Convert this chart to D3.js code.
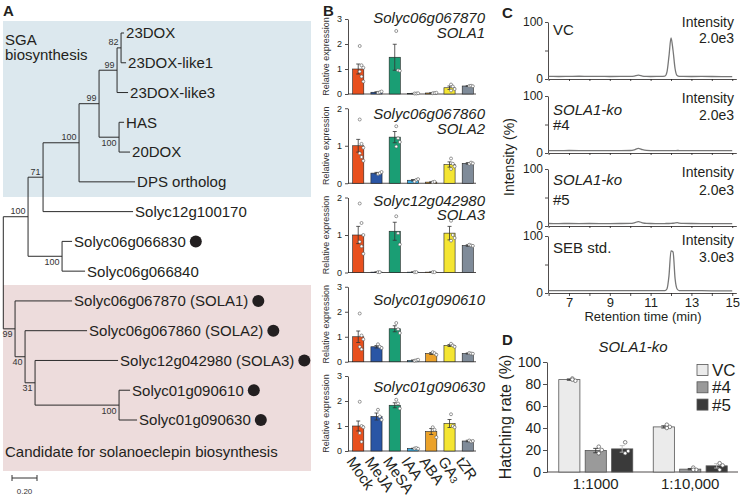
<!DOCTYPE html>
<html>
<head>
<meta charset="utf-8">
<script src="https://cdn.jsdelivr.net/npm/d3@7/dist/d3.min.js"></script>
<style>
html,body{margin:0;padding:0;background:#fff;}
svg{display:block;}
</style>
</head>
<body>
<svg id="fig" width="740" height="498" xmlns="http://www.w3.org/2000/svg"></svg>
<script>
// ======================= DATA =======================
// Panel A: phylogenetic tree  [node, parent, branch length, bootstrap]
const treeNodes = [
  ["root", "", 0, null],
  ["n100a", "root", 0.198, 100],
  ["n71", "n100a", 0.12, 71],
  ["n100b", "n71", 0.288, 100],
  ["n99a", "n100b", 0.16, 99],
  ["n99b", "n99a", 0.144, 99],
  ["n82", "n99b", 0.032, 82],
  ["23DOX", "n82", 0.024, null],
  ["23DOX-like1", "n82", 0.04, null],
  ["23DOX-like3", "n99b", 0.088, null],
  ["n100c", "n99a", 0.16, 100],
  ["HAS", "n100c", 0.04, null],
  ["20DOX", "n100c", 0.088, null],
  ["DPS ortholog", "n100b", 0.448, null],
  ["Solyc12g100170", "n71", 0.72, null],
  ["n100d", "n100a", 0.272, 100],
  ["Solyc06g066830", "n100d", 0.08, null],
  ["Solyc06g066840", "n100d", 0.184, null],
  ["n99c", "root", 0.094, 99],
  ["Solyc06g067870 (SOLA1)", "n99c", 0.456, null],
  ["n40", "n99c", 0.08, 40],
  ["Solyc06g067860 (SOLA2)", "n40", 0.496, null],
  ["n31", "n40", 0.08, 31],
  ["Solyc12g042980 (SOLA3)", "n31", 0.664, null],
  ["n100e", "n31", 0.672, 100],
  ["Solyc01g090610", "n100e", 0.088, null],
  ["Solyc01g090630", "n100e", 0.144, null]
];
const markedLeaves = ["Solyc06g066830", "Solyc06g067870 (SOLA1)", "Solyc06g067860 (SOLA2)",
                      "Solyc12g042980 (SOLA3)", "Solyc01g090610", "Solyc01g090630"];
const sgaLabel = ["SGA", "biosynthesis"];
const candidateLabel = "Candidate for solanoeclepin biosynthesis";
const scaleBarValue = 0.20;

// Panel B: relative expression
const exprTreatments = ["Mock", "MeJA", "MeSA", "IAA", "ABA", "GA3", "tZR"];
const exprGenes = ["Solyc06g067870", "Solyc06g067860", "Solyc12g042980", "Solyc01g090610", "Solyc01g090630"];
const exprAliases = ["SOLA1", "SOLA2", "SOLA3", "", ""];
const exprYMax = [3, 2, 2, 3, 3];
const exprMeans = [
  [1.0, 0.07, 1.47, 0.02, 0.04, 0.25, 0.32],
  [1.0, 0.27, 1.23, 0.08, 0.03, 0.50, 0.53],
  [1.0, 0.01, 1.10, 0.01, 0.01, 1.05, 0.72],
  [1.0, 0.60, 1.32, 0.05, 0.33, 0.65, 0.33],
  [1.0, 1.38, 1.83, 0.10, 0.78, 1.10, 0.40]
];
const exprSE = [
  [0.20, 0.02, 0.52, 0.005, 0.005, 0.07, 0.01],
  [0.17, 0.02, 0.15, 0.02, 0.01, 0.07, 0.02],
  [0.23, 0.005, 0.24, 0.005, 0.005, 0.18, 0.02],
  [0.23, 0.05, 0.12, 0.02, 0.04, 0.04, 0.02],
  [0.20, 0.14, 0.10, 0.01, 0.12, 0.16, 0.03]
];
const exprReps = [
  [[1.92,1.15,1.05,0.9,0.7,0.5],[0.05,0.07,0.1],[2.52,0.95,0.93],[0.02,0.02,0.03],[0.03,0.04,0.05],[0.38,0.3,0.2,0.14],[0.32,0.33,0.31]],
  [[1.7,1.05,0.95,0.8,0.7,0.6],[0.25,0.27,0.3],[1.52,1.2,1.1,0.98],[0.05,0.09,0.11],[0.03,0.04],[0.66,0.52,0.45,0.38],[0.52,0.55,0.53]],
  [[1.84,1.32,1.0,0.82,0.7,0.5],[0.01,0.01],[1.5,1.05,0.75],[0.01,0.01],[0.01,0.01],[1.38,1.0,0.92,0.85],[0.74,0.72,0.71]],
  [[1.93,1.05,0.9,0.6,0.5],[0.7,0.6,0.55],[1.55,1.3,1.15],[0.04,0.06,0.08],[0.38,0.34,0.28],[0.72,0.65,0.6],[0.35,0.33,0.32]],
  [[1.97,1.0,0.95,0.72,0.37],[1.65,1.38,1.25],[2.05,1.9,1.7],[0.1,0.12,0.09],[0.95,0.85,0.55],[1.47,1.0,0.95],[0.42,0.38,0.4]]
];

// Panel C: LC-MS chromatograms (relative intensity, %)
const chromSamples = ["VC", "SOLA1-ko", "SOLA1-ko", "SEB std."];
const chromLines = ["", "#4", "#5", ""];
const chromMaxIntensity = ["2.0e3", "2.0e3", "2.0e3", "3.0e3"];
const chromTime = [6,6.5,7,7.5,8,8.5,9,9.5,10,10.2,10.4,10.6,10.8,11,11.5,11.7,11.8,11.9,12.0,12.1,12.2,12.3,12.4,12.6,13,13.5,14,14.5,15];
const chromVC  = [4.5,4.4,4.6,4.8,4.5,4.6,4.4,4.5,4.6,5.2,6.8,5.2,4.6,4.4,4.5,5.0,12,40,72,50,18,6,4.6,4.5,4.4,4.5,4.4,4.3,4.3];
const chromKo4 = [4.3,4.2,4.4,4.3,4.2,4.3,4.2,4.3,4.4,5.5,8.0,5.8,4.6,4.3,4.2,4.3,4.3,4.3,4.2,4.3,4.2,4.4,4.3,4.2,4.2,4.1,4.2,4.1,4.1];
const chromKo5 = [4.4,4.3,4.4,4.3,4.4,4.3,4.3,4.4,4.5,5.6,7.8,5.6,4.6,4.4,4.3,4.3,4.4,4.4,4.5,4.8,5.3,5.8,5.0,4.5,4.4,4.3,4.2,4.2,4.1];
const chromSEB = [4.0,4.0,4.1,4.0,4.0,4.1,4.0,4.0,4.0,4.0,4.0,4.0,4.0,4.0,4.0,4.2,7,30,74,72,25,7,4.3,4.0,4.0,4.0,3.9,3.9,3.9];
const chromTickLabels = [7, 9, 11, 13, 15];

// Panel D: hatching rate (%)
const hatchDilutions = ["1:1000", "1:10,000"];
const hatchLines = ["VC", "#4", "#5"];
const hatchMeans = [[84, 19.5, 21], [41, 2.6, 5.6]];
const hatchSE = [[0.6, 2, 3], [1, 0.6, 2]];
const hatchReps = [[[85,83,84],[23,20,17],[27,19,17]], [[43,41,40],[4,2,2],[8,6,2]]];

// ======================= DRAWING =======================
const FONT = '"Liberation Sans", Arial, Helvetica, sans-serif';
const INK = "#231f20";
const svg = d3.select("#fig").attr("font-family", FONT);

function txt(g, x, y, s, o = {}) {
  const t = g.append("text").attr("x", x).attr("y", y).text(s)
    .attr("fill", o.fill || INK).attr("font-size", o.size || 15);
  if (o.anchor) t.attr("text-anchor", o.anchor);
  if (o.weight) t.attr("font-weight", o.weight);
  if (o.style) t.attr("font-style", o.style);
  return t;
}
function styleAxis(a, size) {
  a.attr("font-family", FONT).attr("font-size", size);
  a.selectAll("text").attr("fill", INK);
  a.selectAll("line,path").attr("stroke", INK).attr("stroke-width", 0.8);
}

// panel letters
[["A", 3, 16], ["B", 323, 16], ["C", 502, 18], ["D", 502, 345]].forEach(d =>
  txt(svg, d[1], d[2], d[0], { size: 15, weight: "bold" }));

// ---------- Panel A ----------
const gA = svg.append("g");
gA.append("rect").attr("x", 3).attr("y", 21).attr("width", 308).attr("height", 176).attr("fill", "#dce8ee");
gA.append("rect").attr("x", 3).attr("y", 285).attr("width", 308).attr("height", 186).attr("fill", "#eddcdc");

const root = d3.stratify().id(d => d[0]).parentId(d => d[1] || null)(treeNodes);
root.eachBefore(n => { n.dist = n.parent ? n.parent.dist + n.data[2] : 0; });
const leaves = root.leaves();
const ty = d3.scalePoint().domain(leaves.map(d => d.id)).range([33, 420]);
const tx = d3.scaleLinear().domain([0, 1]).range([3.3, 128.3]);
root.eachAfter(n => {
  n.py = n.children ? (n.children[0].py + n.children[n.children.length - 1].py) / 2 : ty(n.id);
});
const branchPath = [];
root.descendants().forEach(n => {
  if (n.parent) branchPath.push(`M${tx(n.parent.dist)},${n.py}H${tx(n.dist)}`);
  if (n.children) branchPath.push(`M${tx(n.dist)},${n.children[0].py}V${n.children[n.children.length - 1].py}`);
});
gA.append("path").attr("d", branchPath.join("")).attr("fill", "none").attr("stroke", "#2b2b2b").attr("stroke-width", 1);

root.descendants().filter(n => n.parent && n.children && n.data[3] != null).forEach(n => {
  const upper = n.parent.children[0] === n;
  txt(gA, tx(n.dist) - 2.5, upper ? n.py - 2.5 : n.py + 8.5, n.data[3], { size: 9, anchor: "end", fill: "#333" });
});
leaves.forEach(n => {
  const x0 = tx(n.dist) + 2;
  const t = txt(gA, x0, n.py + 5.4, n.id, { size: 15 });
  if (markedLeaves.includes(n.id)) {
    const w = t.node().getComputedTextLength();
    gA.append("circle").attr("cx", x0 + w + 10).attr("cy", n.py).attr("r", 6).attr("fill", INK);
  }
});
txt(gA, 5, 45, sgaLabel[0]);
txt(gA, 5, 60, sgaLabel[1]);
txt(gA, 5, 457, candidateLabel);
const sbLen = tx(scaleBarValue) - tx(0);
gA.append("path").attr("d", `M12,478H${12 + sbLen}M12,475V481M${12 + sbLen},475V481`)
  .attr("stroke", "#333").attr("stroke-width", 1).attr("fill", "none");
txt(gA, 12 + sbLen / 2, 494, scaleBarValue.toFixed(2), { size: 8, anchor: "middle", fill: "#333" });

// ---------- Panel B ----------
const gB = svg.append("g");
const bColors = ["#e8501e", "#2a56a5", "#1a9e74", "#3daee3", "#eba22a", "#f4e532", "#7f8b99"];
const bx = d3.scaleBand().domain(exprTreatments).range([349, 477]).paddingInner(0.39).paddingOuter(0.2);
const bw = bx.bandwidth();
const bTitleY = [[17.5, 32], [114, 128], [201, 214], [300], [387]];
exprGenes.forEach((gene, i) => {
  const top = 19 + i * 89.25, bot = top + 75;
  const y = d3.scaleLinear().domain([0, exprYMax[i]]).range([bot, top]);
  const g = gB.append("g");
  g.append("g").attr("transform", "translate(348,0)")
    .call(d3.axisLeft(y).tickValues(d3.range(0, exprYMax[i] + 1)).tickSize(3).tickSizeOuter(0).tickPadding(3).tickFormat(d3.format("d")))
    .call(a => styleAxis(a, 9));
  g.append("line").attr("x1", 348).attr("x2", 476).attr("y1", bot).attr("y2", bot).attr("stroke", INK).attr("stroke-width", 0.8);
  txt(g, 0, 0, "Relative expression", { size: 9, anchor: "middle", fill: "#333" })
    .attr("transform", `translate(329,${(top + bot) / 2}) rotate(-90)`);
  exprTreatments.forEach((c, j) => {
    const m = exprMeans[i][j], se = exprSE[i][j];
    const xc = bx(c) + bw / 2;
    g.append("rect").attr("x", bx(c)).attr("y", y(m)).attr("width", bw).attr("height", bot - y(m))
      .attr("fill", bColors[j]).attr("stroke", "#222").attr("stroke-width", 0.6);
    g.append("path").attr("d", `M${xc},${y(Math.max(0, m - se))}V${y(m + se)}M${xc - 2},${y(m + se)}H${xc + 2}M${xc - 2},${y(Math.max(0, m - se))}H${xc + 2}`)
      .attr("stroke", "#333").attr("stroke-width", 0.8).attr("fill", "none");
    exprReps[i][j].forEach((v, k) => {
      g.append("circle").attr("cx", xc + 1.5 + (k % 3) * 1.8).attr("cy", y(v)).attr("r", 1.5)
        .attr("fill", "#fff").attr("stroke", "#555").attr("stroke-width", 0.6);
    });
  });
  txt(g, 485, bTitleY[i][0] + 5, gene, { size: 15, anchor: "end", style: "italic" });
  if (exprAliases[i]) txt(g, 485, bTitleY[i][1] + 5.5, exprAliases[i], { size: 15, anchor: "end", style: "italic" });
  if (i === exprGenes.length - 1) {
    exprTreatments.forEach(c => {
      const xc = bx(c) + bw / 2;
      const t = g.append("text").attr("transform", `translate(${xc - 3},${bot + 4}) rotate(55)`)
        .attr("font-size", 15).attr("fill", INK).attr("dominant-baseline", "hanging");
      const m = c.match(/^(GA)(\d)$/);
      if (m) { t.append("tspan").text(m[1]); t.append("tspan").text(m[2]).attr("font-size", 10).attr("dy", 5); }
      else t.text(c);
    });
  }
});

// ---------- Panel C ----------
const gC = svg.append("g");
const cTops = [22, 96, 169, 236], cH = 57;
const cx = d3.scaleLinear().domain([6, 15.2]).range([548.6, 736.3]);
const chromSeries = [chromVC, chromKo4, chromKo5, chromSEB];
const cIntY = [27, 103, 177, 245], cValY = [43, 120, 195, 262], cLabY = [[35], [115, 130], [185, 205], [253]];
chromSeries.forEach((vals, i) => {
  const top = cTops[i], bot = top + cH;
  const y = d3.scaleLinear().domain([0, 100]).range([bot, top]);
  const g = gC.append("g");
  g.append("g").attr("transform", "translate(548,0)")
    .call(d3.axisLeft(y).tickValues([0, 50, 100]).tickSize(3).tickSizeOuter(0).tickPadding(2).tickFormat(d => d === 50 ? "" : d))
    .call(a => styleAxis(a, 12));
  const last = i === chromSeries.length - 1;
  g.append("g").attr("transform", `translate(0,${bot})`)
    .call(d3.axisBottom(cx).tickValues(d3.range(6, 16)).tickSize(last ? 3 : 2).tickSizeOuter(0).tickPadding(2)
      .tickFormat(d => last && chromTickLabels.includes(d) ? d : ""))
    .call(a => styleAxis(a, 13));
  const line = d3.line().x((d, k) => cx(chromTime[k])).y(d => y(d)).curve(d3.curveMonotoneX);
  g.append("path").datum(vals).attr("d", line).attr("fill", "none").attr("stroke", "#777").attr("stroke-width", 1.3);
  const lab = txt(g, 553, cLabY[i][0], chromSamples[i], { size: 15 });
  if (chromSamples[i].includes("-ko")) lab.attr("font-style", "italic");
  if (chromLines[i]) txt(g, 553, cLabY[i][1], chromLines[i], { size: 15 });
  txt(g, 734, cIntY[i], "Intensity", { size: 14, anchor: "end" });
  txt(g, 734, cValY[i], chromMaxIntensity[i], { size: 14, anchor: "end" });
});
txt(gC, 0, 0, "Intensity (%)", { size: 14, anchor: "middle" }).attr("transform", "translate(514,157) rotate(-90)");
txt(gC, 643, 321, "Retention time (min)", { size: 13, anchor: "middle" });

// ---------- Panel D ----------
const gD = svg.append("g");
const dColors = ["#ebebeb", "#9a9a9a", "#3a3a3a"];
const dy = d3.scaleLinear().domain([0, 100]).range([472, 362]);
const dx0 = d3.scaleBand().domain(hatchDilutions).range([548, 738]).paddingInner(0.217).paddingOuter(0.114);
const dx1 = d3.scaleBand().domain(hatchLines).range([0, dx0.bandwidth()]).paddingInner(0.2);
gD.append("g").attr("transform", "translate(547,0)")
  .call(d3.axisLeft(dy).tickValues(d3.range(0, 101, 20)).tickSize(4).tickSizeOuter(0).tickPadding(2))
  .call(a => styleAxis(a, 14));
gD.append("line").attr("x1", 547).attr("x2", 738).attr("y1", 472).attr("y2", 472).attr("stroke", INK).attr("stroke-width", 0.8);
hatchDilutions.forEach((dl, i) => {
  hatchLines.forEach((ln, j) => {
    const x = dx0(dl) + dx1(ln), w = dx1.bandwidth(), m = hatchMeans[i][j], se = hatchSE[i][j];
    const xc = x + w / 2;
    gD.append("rect").attr("x", x).attr("y", dy(m)).attr("width", w).attr("height", 472 - dy(m))
      .attr("fill", dColors[j]).attr("stroke", "#555").attr("stroke-width", 0.8);
    gD.append("path").attr("d", `M${xc},${dy(Math.max(0, m - se))}V${dy(m + se)}M${xc - 2.5},${dy(m + se)}H${xc + 2.5}M${xc - 2.5},${dy(Math.max(0, m - se))}H${xc + 2.5}`)
      .attr("stroke", j === 2 ? "#bbb" : "#333").attr("stroke-width", 0.9).attr("fill", "none");
    hatchReps[i][j].forEach((v, k) => {
      gD.append("circle").attr("cx", xc + 3 + (k % 2) * 3).attr("cy", dy(v)).attr("r", 1.8)
        .attr("fill", "#fff").attr("stroke", "#555").attr("stroke-width", 0.7);
    });
  });
  txt(gD, dx0(dl) + dx0.bandwidth() / 2, 489, dl, { size: 15, anchor: "middle" });
});
txt(gD, 633, 352, "SOLA1-ko", { size: 15, anchor: "middle", style: "italic" });
txt(gD, 0, 0, "Hatching rate (%)", { size: 16, anchor: "middle" }).attr("transform", "translate(511,417) rotate(-90)");
hatchLines.forEach((ln, j) => {
  const yc = 370 + j * 17.3;
  gD.append("rect").attr("x", 697).attr("y", yc - 5.5).attr("width", 11).attr("height", 11)
    .attr("fill", dColors[j]).attr("stroke", "#555").attr("stroke-width", 0.8);
  txt(gD, 712, yc + 6, ln, { size: 17 });
});
</script>
</body>
</html>
